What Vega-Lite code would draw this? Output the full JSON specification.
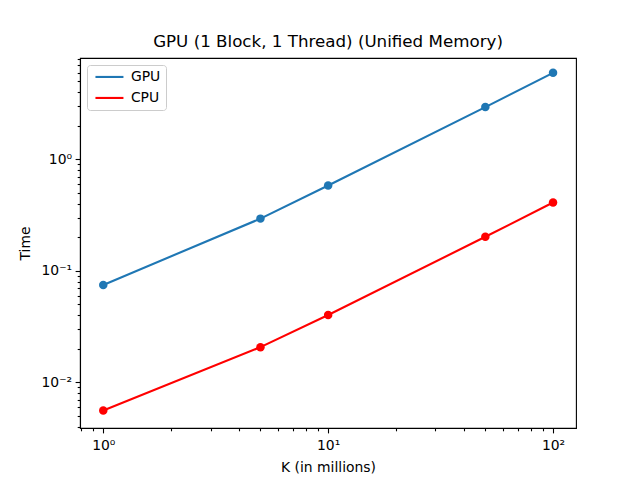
{
  "$schema": "https://vega.github.io/schema/vega-lite/v6.json",
  "autosize": "none",
  "width": 496,
  "height": 370,
  "padding": {"left": 80, "top": 58, "right": 64, "bottom": 52},
  "background": "white",
  "config": {
    "font": "DejaVu Sans",
    "view": {"stroke": "black", "strokeWidth": 1.1},
    "axis": {
      "grid": false,
      "domainColor": "black",
      "domainWidth": 1.1,
      "tickColor": "black",
      "tickWidth": 1.1,
      "labelFont": "DejaVu Sans",
      "labelFontSize": 13.9,
      "labelColor": "black",
      "titleFont": "DejaVu Sans",
      "titleFontSize": 13.9,
      "titleFontWeight": "normal",
      "titleColor": "black",
      "labelPadding": 3.5
    }
  },
  "title": {
    "text": "GPU (1 Block, 1 Thread) (Unified Memory)",
    "font": "DejaVu Sans",
    "fontSize": 16.7,
    "fontWeight": "normal",
    "color": "black",
    "anchor": "middle",
    "offset": 7
  },
  "data": {
    "values": [
      {"series": "GPU", "k": 1, "time": 0.0748},
      {"series": "GPU", "k": 5, "time": 0.294},
      {"series": "GPU", "k": 10, "time": 0.583},
      {"series": "GPU", "k": 50, "time": 2.94},
      {"series": "GPU", "k": 100, "time": 5.96},
      {"series": "CPU", "k": 1, "time": 0.0056},
      {"series": "CPU", "k": 5, "time": 0.0207},
      {"series": "CPU", "k": 10, "time": 0.0402},
      {"series": "CPU", "k": 50, "time": 0.202},
      {"series": "CPU", "k": 100, "time": 0.41}
    ]
  },
  "encoding": {
    "x": {
      "field": "k",
      "type": "quantitative",
      "scale": {"type": "log", "domain": [0.788, 126.5], "nice": false},
      "axis": {
        "title": "K (in millions)",
        "titlePadding": 8,
        "labelPadding": 5.5,
        "values": [0.8, 0.9, 1, 2, 3, 4, 5, 6, 7, 8, 9, 10, 20, 30, 40, 50, 60, 70, 80, 90, 100],
        "labelExpr": "datum.value == 1 ? '10⁰' : datum.value == 10 ? '10¹' : datum.value == 100 ? '10²' : ''",
        "tickSize": {"condition": {"test": "datum.value == 1 || datum.value == 10 || datum.value == 100", "value": 4.9}, "value": 2.8}
      }
    },
    "y": {
      "field": "time",
      "type": "quantitative",
      "scale": {"type": "log", "domain": [0.0039, 8.1], "nice": false},
      "axis": {
        "title": "Time",
        "titlePadding": 9,
        "values": [0.004, 0.005, 0.006, 0.007, 0.008, 0.009, 0.01, 0.02, 0.03, 0.04, 0.05, 0.06, 0.07, 0.08, 0.09, 0.1, 0.2, 0.3, 0.4, 0.5, 0.6, 0.7, 0.8, 0.9, 1, 2, 3, 4, 5, 6, 7, 8],
        "labelExpr": "datum.value == 0.01 ? '10⁻²' : datum.value == 0.1 ? '10⁻¹' : datum.value == 1 ? '10⁰' : ''",
        "tickSize": {"condition": {"test": "datum.value == 0.01 || datum.value == 0.1 || datum.value == 1", "value": 4.9}, "value": 2.8}
      }
    },
    "color": {
      "field": "series",
      "type": "nominal",
      "scale": {"domain": ["GPU", "CPU"], "range": ["#1f77b4", "#ff0000"]},
      "legend": {
        "title": null,
        "orient": "top-left",
        "offset": 7,
        "symbolType": "M-1,0L7,0",
        "symbolSize": 49,
        "symbolStrokeWidth": 2.1,
        "labelFont": "DejaVu Sans",
        "labelFontSize": 13.9,
        "labelColor": "black",
        "fillColor": "white",
        "strokeColor": "#cccccc",
        "cornerRadius": 3,
        "padding": 5,
        "rowPadding": 6,
        "labelOffset": 25
      }
    }
  },
  "layer": [
    {"mark": {"type": "line", "strokeWidth": 2.1}},
    {"mark": {"type": "point", "filled": true, "opacity": 1, "size": 72}, "encoding": {"color": {"field": "series", "type": "nominal", "legend": null}}}
  ]
}
